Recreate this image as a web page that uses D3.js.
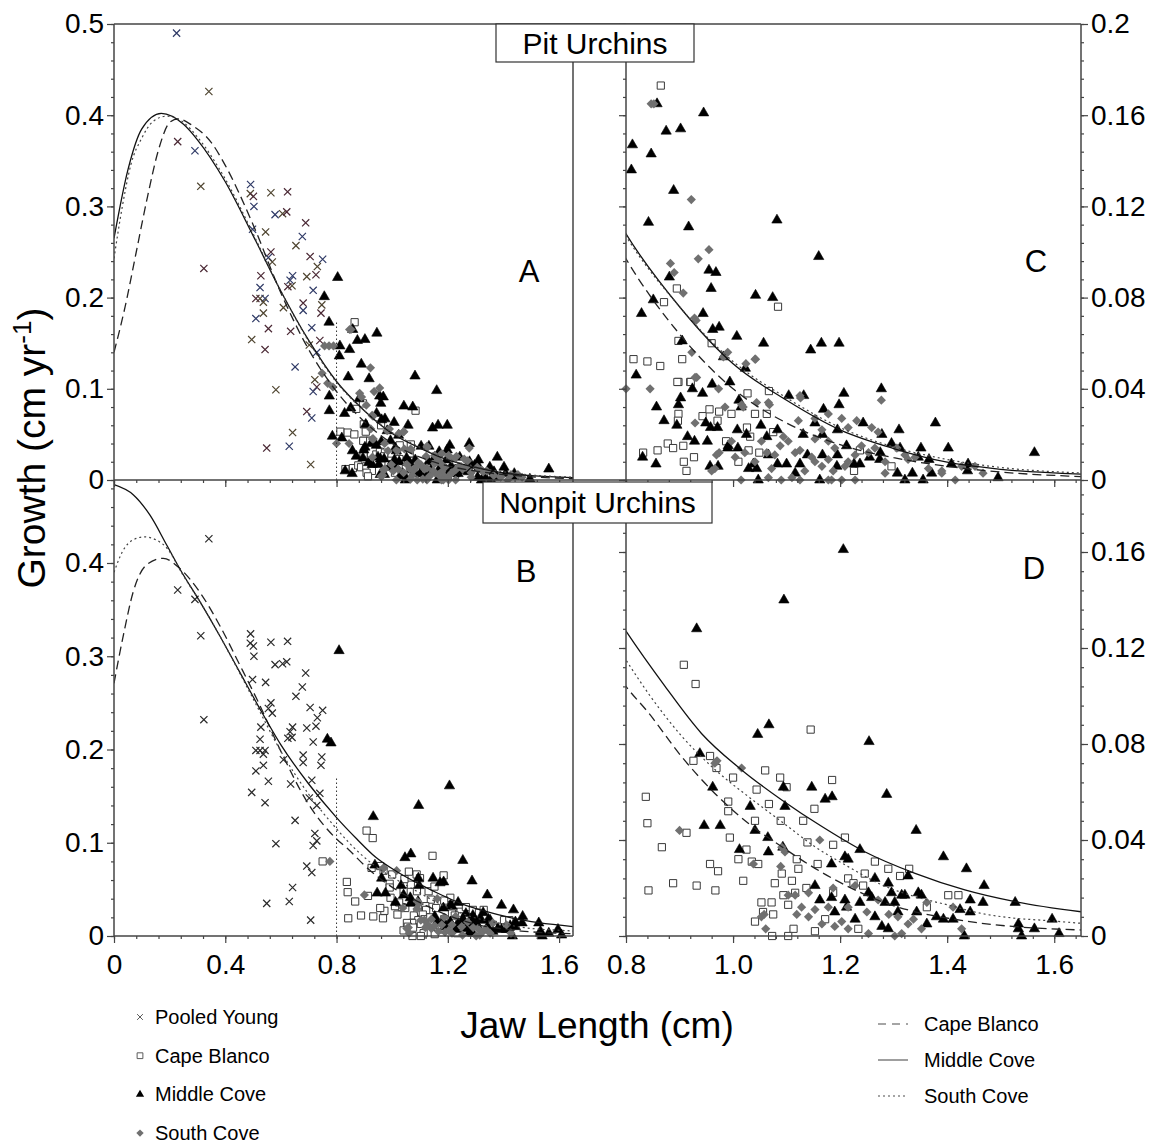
<html>
<head>
<script src="https://d3js.org/d3.v7.min.js"></script>
<style>
  body { margin: 0; background: #fff; }
  text { font-family: "Liberation Sans", Arial, sans-serif; fill: #000; }
</style>
</head>
<body>
<svg width="1156" height="1144"></svg>
<script>
// ---- data: [jaw length (cm), growth (cm/yr)] ----
var pooledYoung = [[0.225,0.490],[0.341,0.426],[0.229,0.371],[0.291,0.361],[0.312,0.322],[0.323,0.232],[0.491,0.324],[0.490,0.314],[0.501,0.311],[0.503,0.300],[0.564,0.315],[0.624,0.316],[0.579,0.291],[0.606,0.292],[0.621,0.294],[0.498,0.275],[0.545,0.272],[0.689,0.282],[0.677,0.267],[0.654,0.257],[0.564,0.250],[0.555,0.244],[0.569,0.239],[0.705,0.245],[0.750,0.242],[0.731,0.234],[0.528,0.224],[0.642,0.224],[0.693,0.223],[0.726,0.225],[0.633,0.219],[0.640,0.213],[0.625,0.212],[0.525,0.211],[0.525,0.199],[0.510,0.199],[0.543,0.199],[0.537,0.195],[0.680,0.194],[0.716,0.208],[0.747,0.192],[0.744,0.183],[0.510,0.177],[0.537,0.183],[0.555,0.166],[0.680,0.186],[0.609,0.189],[0.635,0.163],[0.711,0.167],[0.495,0.154],[0.543,0.143],[0.729,0.140],[0.702,0.148],[0.740,0.153],[0.651,0.124],[0.722,0.110],[0.729,0.102],[0.716,0.097],[0.582,0.099],[0.693,0.075],[0.711,0.068],[0.642,0.052],[0.549,0.035],[0.630,0.037],[0.707,0.017]];

var pitCape = [[0.865,0.173],[0.895,0.084],[0.871,0.078],[1.084,0.076],[0.898,0.061],[0.960,0.060],[0.814,0.053],[0.840,0.052],[0.864,0.050],[0.905,0.053],[0.898,0.043],[0.920,0.043],[1.027,0.038],[1.067,0.039],[0.896,0.043],[0.921,0.043],[0.898,0.029],[0.897,0.026],[0.943,0.028],[0.956,0.031],[0.974,0.030],[0.997,0.029],[1.032,0.019],[1.041,0.029],[1.063,0.029],[0.832,0.012],[0.859,0.013],[0.878,0.016],[0.888,0.014],[0.907,0.015],[0.927,0.010],[0.908,0.008],[0.913,0.004],[0.971,0.026],[1.010,0.008],[1.029,0.013],[1.049,0.012],[1.075,0.021],[1.237,0.013],[1.296,0.006],[1.226,0.004],[0.987,0.017],[1.026,0.023]];

var pitMiddle = [[0.756,0.201],[0.773,0.173],[0.774,0.092],[0.774,0.076],[0.785,0.048],[0.804,0.222],[0.858,0.165],[0.945,0.161],[0.875,0.153],[0.902,0.154],[0.812,0.147],[0.847,0.143],[0.810,0.136],[0.889,0.127],[0.842,0.113],[0.917,0.111],[1.082,0.114],[1.160,0.098],[0.955,0.092],[0.968,0.091],[0.881,0.089],[0.959,0.084],[0.851,0.079],[1.042,0.081],[1.074,0.080],[0.829,0.073],[0.944,0.073],[0.962,0.066],[0.974,0.067],[1.007,0.063],[1.057,0.060],[1.145,0.057],[1.165,0.060],[1.198,0.060],[0.905,0.061],[0.982,0.054],[1.023,0.049],[0.819,0.046],[0.924,0.040],[0.943,0.038],[0.961,0.042],[0.994,0.043],[1.011,0.035],[0.902,0.036],[1.104,0.037],[1.132,0.037],[1.207,0.038],[1.277,0.040],[0.857,0.032],[0.898,0.033],[1.169,0.031],[1.198,0.033],[0.871,0.026],[0.895,0.024],[0.915,0.019],[0.928,0.017],[0.952,0.017],[0.949,0.025],[0.958,0.023],[0.971,0.023],[0.991,0.015],[1.008,0.022],[1.015,0.032],[1.025,0.020],[1.052,0.024],[1.063,0.019],[1.083,0.022],[1.131,0.020],[1.153,0.025],[1.167,0.020],[1.195,0.022],[1.243,0.025],[1.278,0.020],[1.310,0.022],[1.296,0.016],[1.312,0.014],[1.351,0.014],[1.378,0.025],[1.402,0.014],[1.346,0.010],[1.366,0.009],[1.408,0.007],[1.439,0.007],[1.438,0.004],[1.495,0.001],[1.563,0.012],[1.307,0.003],[1.321,0.000],[1.355,0.000],[1.335,0.003],[1.371,0.003],[1.275,0.012],[1.274,0.009],[1.255,0.010],[1.237,0.007],[1.226,0.007],[1.212,0.015],[1.195,0.011],[1.194,0.006],[1.167,0.011],[1.162,0.000],[1.139,0.011],[1.125,0.007],[1.116,0.003],[1.100,0.007],[1.083,0.007],[1.066,0.011],[1.047,0.000],[1.044,0.005],[1.029,0.005],[1.038,0.007],[1.009,0.014],[0.990,0.014],[0.972,0.006],[0.957,0.006],[0.856,0.007],[0.831,0.010]];

var pitSouth = [[0.757,0.147],[0.773,0.147],[0.789,0.147],[0.748,0.117],[0.768,0.106],[0.787,0.102],[0.847,0.165],[0.852,0.165],[0.922,0.123],[0.955,0.101],[0.935,0.097],[0.883,0.095],[0.890,0.091],[0.907,0.082],[0.928,0.071],[0.931,0.070],[0.923,0.056],[0.990,0.056],[1.042,0.053],[1.024,0.051],[0.932,0.045],[0.800,0.040],[0.845,0.040],[0.973,0.040],[1.016,0.033],[1.277,0.035],[1.126,0.036],[1.068,0.033],[1.044,0.034],[0.929,0.045],[0.982,0.054],[1.041,0.053],[1.066,0.034],[0.985,0.032],[1.019,0.032],[1.125,0.037],[1.122,0.026],[1.231,0.026],[1.259,0.023],[0.929,0.025],[0.974,0.012],[0.966,0.005],[1.015,0.000],[1.125,0.000],[1.178,0.000],[1.203,0.000],[1.228,0.000],[1.415,0.000],[1.467,0.003],[1.452,0.006],[1.390,0.003],[1.365,0.005],[1.327,0.009],[1.321,0.011],[1.284,0.008],[1.265,0.014],[1.253,0.012],[1.228,0.011],[1.215,0.008],[1.209,0.006],[1.187,0.004],[1.178,0.009],[1.166,0.006],[1.153,0.008],[1.147,0.010],[1.134,0.004],[1.125,0.013],[1.116,0.012],[1.103,0.017],[1.094,0.019],[1.088,0.015],[1.078,0.011],[1.072,0.005],[1.063,0.012],[1.053,0.017],[1.041,0.008],[1.022,0.012],[1.004,0.010],[0.997,0.017],[0.969,0.011],[0.960,0.004],[1.153,0.018],[1.166,0.022],[1.178,0.017],[1.190,0.014],[1.153,0.027],[1.178,0.029],[1.203,0.027],[1.215,0.023],[1.240,0.015],[1.271,0.021],[1.306,0.014],[1.340,0.010],[1.390,0.004],[1.427,0.006],[1.090,0.000],[1.110,0.001],[1.066,0.001],[1.184,0.000],[1.284,0.003]];

var nonpitCape = [[0.750,0.080],[0.908,0.113],[0.930,0.105],[1.145,0.086],[0.837,0.058],[0.840,0.047],[0.842,0.019],[0.867,0.037],[0.888,0.022],[0.932,0.021],[0.967,0.019],[0.913,0.043],[0.926,0.073],[0.957,0.075],[0.969,0.070],[0.994,0.041],[1.000,0.066],[0.991,0.056],[0.991,0.052],[1.060,0.069],[1.088,0.066],[1.100,0.062],[1.067,0.055],[1.044,0.061],[1.041,0.048],[1.089,0.048],[1.131,0.048],[1.152,0.053],[1.185,0.065],[1.209,0.041],[1.187,0.038],[1.139,0.039],[1.158,0.030],[1.119,0.032],[1.122,0.028],[1.091,0.026],[1.110,0.023],[1.078,0.022],[1.116,0.018],[1.137,0.020],[1.094,0.017],[1.103,0.013],[1.072,0.014],[1.053,0.014],[1.056,0.010],[1.041,0.006],[1.075,0.009],[1.113,0.003],[1.073,0.000],[1.103,0.000],[1.153,0.002],[1.172,0.007],[1.187,0.018],[1.215,0.024],[1.246,0.026],[1.265,0.031],[1.290,0.028],[1.312,0.025],[1.329,0.028],[1.243,0.021],[1.225,0.022],[1.234,0.003],[1.019,0.023],[1.035,0.031],[1.047,0.030],[1.010,0.032],[1.025,0.036],[0.972,0.027],[0.957,0.030],[1.402,0.017],[1.421,0.017],[1.362,0.012]];

var nonpitMiddle = [[0.767,0.211],[0.780,0.207],[0.809,0.306],[1.206,0.161],[1.095,0.140],[0.932,0.128],[1.254,0.081],[1.046,0.084],[1.067,0.088],[1.287,0.059],[1.342,0.044],[1.393,0.033],[1.436,0.028],[1.469,0.021],[1.527,0.014],[1.467,0.014],[1.596,0.007],[1.609,0.001],[1.563,0.003],[1.533,0.005],[1.533,0.003],[1.539,0.000],[1.432,0.000],[1.443,0.010],[1.443,0.015],[1.424,0.011],[1.411,0.007],[1.393,0.007],[1.380,0.008],[1.362,0.005],[1.343,0.010],[1.327,0.025],[1.346,0.018],[1.352,0.017],[1.321,0.017],[1.315,0.017],[1.296,0.018],[1.290,0.022],[1.265,0.024],[1.259,0.016],[1.253,0.018],[1.265,0.008],[1.278,0.004],[1.290,0.003],[1.284,0.014],[1.302,0.014],[1.308,0.010],[1.237,0.036],[1.215,0.032],[1.209,0.033],[1.184,0.030],[1.153,0.021],[1.162,0.015],[1.184,0.016],[1.209,0.015],[1.190,0.010],[1.212,0.012],[1.237,0.014],[1.228,0.007],[1.147,0.062],[1.172,0.057],[1.185,0.058],[1.094,0.062],[1.097,0.054],[1.032,0.054],[1.066,0.035],[1.065,0.041],[1.041,0.044],[1.012,0.036],[0.962,0.062],[0.946,0.046],[0.976,0.046],[0.938,0.076],[1.093,0.037]];

var nonpitSouth = [[0.776,0.080],[0.900,0.044],[0.966,0.072],[0.970,0.073],[1.016,0.070],[1.089,0.029],[1.038,0.030],[1.162,0.040],[1.091,0.037],[1.097,0.035],[1.061,0.003],[1.058,0.009],[1.116,0.017],[1.141,0.008],[1.153,0.011],[1.178,0.012],[1.190,0.004],[1.203,0.006],[1.215,0.003],[1.228,0.021],[1.215,0.012],[1.253,0.001],[1.302,0.000],[1.315,0.001],[1.327,0.005],[1.337,0.007],[1.362,0.014],[1.352,0.003],[1.411,0.012],[1.427,0.003],[1.291,0.009],[1.250,0.010],[1.271,0.015],[1.308,0.008],[1.141,0.018],[1.128,0.012],[1.166,0.005],[1.103,0.017],[1.053,0.008],[1.119,0.009],[1.187,0.020]];

// fitted growth curves
var pitCapeCurve = [[0,0.140],[0.04,0.190],[0.08,0.250],[0.12,0.310],[0.16,0.362],[0.20,0.392],[0.23,0.396],[0.28,0.389],[0.35,0.370],[0.40,0.345],[0.50,0.280],[0.60,0.205],[0.70,0.143],[0.80,0.097],[0.90,0.064],[1.00,0.040],[1.10,0.025],[1.20,0.0155],[1.30,0.0098],[1.40,0.0060],[1.50,0.0035],[1.65,0.0015]];
var pitMiddleCurve = [[0,0.265],[0.05,0.340],[0.10,0.385],[0.17,0.402],[0.25,0.390],[0.30,0.373],[0.40,0.327],[0.50,0.268],[0.60,0.207],[0.70,0.153],[0.80,0.108],[0.90,0.076],[1.00,0.051],[1.10,0.035],[1.20,0.022],[1.30,0.0138],[1.40,0.0078],[1.50,0.0047],[1.65,0.0026]];
var pitSouthCurve = [[0,0.243],[0.03,0.300],[0.06,0.345],[0.10,0.375],[0.14,0.393],[0.19,0.399],[0.25,0.392],[0.30,0.376],[0.40,0.330],[0.50,0.270],[0.60,0.207],[0.70,0.152],[0.80,0.107],[0.90,0.076],[1.00,0.052],[1.10,0.036],[1.20,0.023],[1.30,0.0145],[1.40,0.0090],[1.50,0.0055],[1.65,0.0031]];
var nonpitCapeCurve = [[0,0.271],[0.034,0.323],[0.069,0.369],[0.117,0.398],[0.177,0.405],[0.237,0.394],[0.31,0.368],[0.38,0.333],[0.45,0.292],[0.52,0.250],[0.60,0.198],[0.70,0.141],[0.80,0.104],[0.842,0.093],[0.904,0.0747],[0.966,0.0594],[1.029,0.0469],[1.091,0.0372],[1.153,0.0282],[1.215,0.0206],[1.278,0.0143],[1.34,0.0101],[1.402,0.0074],[1.464,0.0053],[1.527,0.0039],[1.65,0.0025]];
var nonpitMiddleCurve = [[0,0.484],[0.07,0.473],[0.13,0.451],[0.19,0.419],[0.24,0.392],[0.31,0.358],[0.38,0.322],[0.45,0.284],[0.52,0.246],[0.60,0.205],[0.70,0.163],[0.80,0.127],[0.873,0.104],[0.941,0.0844],[1.016,0.0692],[1.091,0.0567],[1.166,0.0456],[1.246,0.0351],[1.34,0.0261],[1.433,0.0192],[1.527,0.0143],[1.65,0.0101]];
var nonpitSouthCurve = [[0,0.390],[0.03,0.412],[0.07,0.425],[0.11,0.428],[0.15,0.425],[0.19,0.416],[0.25,0.386],[0.31,0.358],[0.38,0.322],[0.45,0.283],[0.52,0.243],[0.60,0.198],[0.70,0.152],[0.80,0.115],[0.842,0.101],[0.904,0.0833],[0.966,0.0694],[1.029,0.058],[1.091,0.0476],[1.153,0.0372],[1.215,0.0289],[1.278,0.0213],[1.34,0.0164],[1.402,0.0129],[1.464,0.0094],[1.527,0.0074],[1.589,0.0064],[1.65,0.0053]];

var cutoffX = 0.8, pitCutoffTop = 0.175, nonpitCutoffTop = 0.171;

var yTicksFull = [0, 0.1, 0.2, 0.3, 0.4, 0.5];
var yTicksZoom = [0, 0.04, 0.08, 0.12, 0.16, 0.2];
var xTicksFull = [0, 0.4, 0.8, 1.2, 1.6];
var xTicksZoom = [0.8, 1.0, 1.2, 1.4, 1.6];
var pointLegend = ["Pooled Young", "Cape Blanco", "Middle Cove", "South Cove"];
var lineLegend = ["Cape Blanco", "Middle Cove", "South Cove"];

// ---- scales ----
var svg = d3.select("svg");
var xFull = d3.scaleLinear().domain([0, 1.65]).range([114, 573]);
var xZoom = d3.scaleLinear().domain([0.8, 1.65]).range([626, 1081]);
var yA = d3.scaleLinear().domain([0, 0.5]).range([480, 24]);
var yB = d3.scaleLinear().domain([0, 0.489]).range([936, 480]);
var yC = d3.scaleLinear().domain([0, 0.2]).range([480, 24]);
var yD = d3.scaleLinear().domain([0, 0.19]).range([936, 480]);

var axisColor = "#444";
var youngColors = ["#2f3a66", "#4f4530", "#4a2834"];

var triangle = d3.symbol().type(d3.symbolTriangle).size(46)();
var square = "M-3.6,-3.6H3.6V3.6H-3.6Z";
var diamond = "M0,-4.6L4.6,0L0,4.6L-4.6,0Z";
var cross = "M-3.6,-3.6L3.6,3.6M-3.6,3.6L3.6,-3.6";

function inside(x, y) {
  return function(d) {
    return d[0] >= x.domain()[0] - 0.002 && d[0] <= x.domain()[1] && d[1] <= y.domain()[1];
  };
}

function points(g, data, x, y, path, fill, stroke, sw) {
  g.selectAll(null).data(data.filter(inside(x, y))).enter().append("path")
    .attr("d", path)
    .attr("transform", function(d) { return "translate(" + x(d[0]) + "," + y(d[1]) + ")"; })
    .attr("fill", fill).attr("stroke", stroke).attr("stroke-width", sw);
}

function panel(name, x, y, young, cape, middle, south, curves, cutTop, colored) {
  svg.append("clipPath").attr("id", "clip" + name).append("rect")
    .attr("x", x.range()[0]).attr("y", y.range()[1])
    .attr("width", x.range()[1] - x.range()[0]).attr("height", y.range()[0] - y.range()[1]);
  var g = svg.append("g");

  if (young) {
    g.selectAll(null).data(young.filter(inside(x, y))).enter().append("path")
      .attr("d", cross)
      .attr("transform", function(d) { return "translate(" + x(d[0]) + "," + y(d[1]) + ")"; })
      .attr("fill", "none")
      .attr("stroke", function(d, i) { return colored ? youngColors[i % 3] : "#2a2a2a"; })
      .attr("stroke-width", 1.2);
  }
  points(g, cape, x, y, square, "#fff", "#3a3a3a", 1);
  points(g, middle, x, y, triangle, "#000", "#000", 0.6);
  points(g, south, x, y, diamond, "#707070", "none", 0);

  if (cutTop) {
    g.append("line")
      .attr("x1", x(cutoffX)).attr("x2", x(cutoffX))
      .attr("y1", y(0)).attr("y2", y(cutTop))
      .attr("stroke", "#333").attr("stroke-width", 1).attr("stroke-dasharray", "1.5,2.5");
  }

  var line = d3.line().x(function(d) { return x(d[0]); }).y(function(d) { return y(d[1]); })
    .curve(d3.curveMonotoneX);
  var cg = svg.append("g").attr("clip-path", "url(#clip" + name + ")").attr("fill", "none");
  cg.append("path").attr("d", line(curves[0])).attr("stroke", "#222").attr("stroke-width", 1.3).attr("stroke-dasharray", "9,5");
  cg.append("path").attr("d", line(curves[1])).attr("stroke", "#111").attr("stroke-width", 1.3);
  cg.append("path").attr("d", line(curves[2])).attr("stroke", "#444").attr("stroke-width", 1.2).attr("stroke-dasharray", "2,3");
}

// ---- axes ----
function styleAxis(g, fontSize) {
  g.select(".domain").remove();
  g.selectAll("line").attr("stroke", axisColor).attr("stroke-width", 1.2);
  g.selectAll("text").style("font-size", fontSize + "px").attr("fill", "#000");
}

function yAxis(scale, xpos, right, majors, minorStep, labels) {
  var maker = right ? d3.axisRight : d3.axisLeft;
  var minor = d3.range(0, scale.domain()[1] + 1e-9, minorStep);
  svg.append("g").attr("transform", "translate(" + xpos + ",0)")
    .call(maker(scale).tickValues(minor).tickSize(3).tickFormat(""))
    .call(styleAxis, 28);
  svg.append("g").attr("transform", "translate(" + xpos + ",0)")
    .call(maker(scale).tickValues(majors).tickSize(7).tickPadding(3).tickFormat(labels ? d3.format("~g") : ""))
    .call(styleAxis, 28);
}

function xAxis(scale, ypos, majors, minorStep, fmt) {
  var d = scale.domain();
  var minor = d3.range(d[0], d[1] + 1e-9, minorStep);
  svg.append("g").attr("transform", "translate(0," + ypos + ")")
    .call(d3.axisBottom(scale).tickValues(minor).tickSize(3).tickFormat(""))
    .call(styleAxis, 28);
  svg.append("g").attr("transform", "translate(0," + ypos + ")")
    .call(d3.axisBottom(scale).tickValues(majors).tickSize(7).tickPadding(11).tickFormat(fmt ? d3.format(fmt) : ""))
    .call(styleAxis, 28);
}

panel("A", xFull, yA, pooledYoung, pitCape, pitMiddle, pitSouth, [pitCapeCurve, pitMiddleCurve, pitSouthCurve], pitCutoffTop, true);
panel("B", xFull, yB, pooledYoung, nonpitCape, nonpitMiddle, nonpitSouth, [nonpitCapeCurve, nonpitMiddleCurve, nonpitSouthCurve], nonpitCutoffTop, false);
panel("C", xZoom, yC, null, pitCape, pitMiddle, pitSouth, [pitCapeCurve, pitMiddleCurve, pitSouthCurve], null, false);
panel("D", xZoom, yD, null, nonpitCape, nonpitMiddle, nonpitSouth, [nonpitCapeCurve, nonpitMiddleCurve, nonpitSouthCurve], null, false);

yAxis(yA, xFull.range()[0], false, yTicksFull, 0.02, true);
yAxis(yB, xFull.range()[0], false, yTicksFull.slice(0, 5), 0.02, true);
yAxis(yC, xZoom.range()[0], false, yTicksZoom, 0.008, false);
yAxis(yD, xZoom.range()[0], false, yTicksZoom.slice(0, 5), 0.008, false);
yAxis(yC, xZoom.range()[1], true, yTicksZoom, 0.008, true);
yAxis(yD, xZoom.range()[1], true, yTicksZoom.slice(0, 5), 0.008, true);
xAxis(xFull, yA.range()[0], xTicksFull, 0.08, null);
xAxis(xFull, yB.range()[0], xTicksFull, 0.08, "~g");
xAxis(xZoom, yC.range()[0], xTicksZoom, 0.04, null);
xAxis(xZoom, yD.range()[0], xTicksZoom, 0.04, ".1f");

// frame lines
var frame = svg.append("g").attr("stroke", axisColor).attr("stroke-width", 1.5);
var yTop = yA.range()[1], yMid = yA.range()[0], yBot = yB.range()[0];
var xL = xFull.range()[0], xAR = xFull.range()[1], xCL = xZoom.range()[0], xR = xZoom.range()[1];
[[xL, yTop, xR, yTop], [xL, yMid, xR, yMid], [xL, yBot, xAR, yBot], [xCL, yBot, xR, yBot],
 [xL, yTop, xL, yBot], [xAR, yTop, xAR, yBot], [xCL, yTop, xCL, yBot], [xR, yTop, xR, yBot]]
  .forEach(function(l) {
    frame.append("line").attr("x1", l[0]).attr("y1", l[1]).attr("x2", l[2]).attr("y2", l[3]);
  });

// panel titles
function titleBox(label, x0, y0, w, h) {
  svg.append("rect").attr("x", x0).attr("y", y0).attr("width", w).attr("height", h)
    .attr("fill", "#fff").attr("stroke", "#333").attr("stroke-width", 1.2);
  svg.append("text").attr("x", x0 + w / 2).attr("y", y0 + h / 2).attr("dy", "0.35em")
    .attr("text-anchor", "middle").style("font-size", "30px").text(label);
}
titleBox("Pit Urchins", 496, 24, 198, 38);
titleBox("Nonpit Urchins", 483, 482, 229, 41);

[["A", 529, 271], ["B", 526, 571], ["C", 1036, 261], ["D", 1034, 568]].forEach(function(p) {
  svg.append("text").attr("x", p[1]).attr("y", p[2]).attr("dy", "0.35em")
    .attr("text-anchor", "middle").style("font-size", "31px").text(p[0]);
});

// axis titles
svg.append("text").attr("x", 597).attr("y", 1025).attr("dy", "0.35em")
  .attr("text-anchor", "middle").style("font-size", "37px").text("Jaw Length (cm)");

var yt = svg.append("text").attr("transform", "translate(31,448) rotate(-90)")
  .attr("dy", "0.35em").attr("text-anchor", "middle").style("font-size", "39px");
yt.append("tspan").text("Growth (cm yr");
yt.append("tspan").attr("dy", "-14").style("font-size", "26px").text("-1");
yt.append("tspan").attr("dy", "14").text(")");

// legends
var markerShapes = [cross, square, triangle, diamond];
var legendL = svg.append("g");
pointLegend.forEach(function(name, i) {
  var yy = 1017 + i * 38.7;
  var m = legendL.append("path").attr("d", markerShapes[i])
    .attr("transform", "translate(140," + yy + ") scale(0.8)");
  if (i === 0) m.attr("fill", "none").attr("stroke", "#555").attr("stroke-width", 1.2);
  if (i === 1) m.attr("fill", "#fff").attr("stroke", "#555").attr("stroke-width", 1.2);
  if (i === 2) m.attr("fill", "#000");
  if (i === 3) m.attr("fill", "#707070");
  legendL.append("text").attr("x", 155).attr("y", yy).attr("dy", "0.35em")
    .style("font-size", "20px").text(name);
});

var dashes = ["8,6", null, "2,3"];
lineLegend.forEach(function(name, i) {
  var yy = 1024 + i * 36;
  svg.append("line").attr("x1", 878).attr("x2", 908).attr("y1", yy).attr("y2", yy)
    .attr("stroke", "#888").attr("stroke-width", 1.6).attr("stroke-dasharray", dashes[i]);
  svg.append("text").attr("x", 924).attr("y", yy).attr("dy", "0.35em")
    .style("font-size", "20px").text(name);
});
</script>
</body>
</html>
